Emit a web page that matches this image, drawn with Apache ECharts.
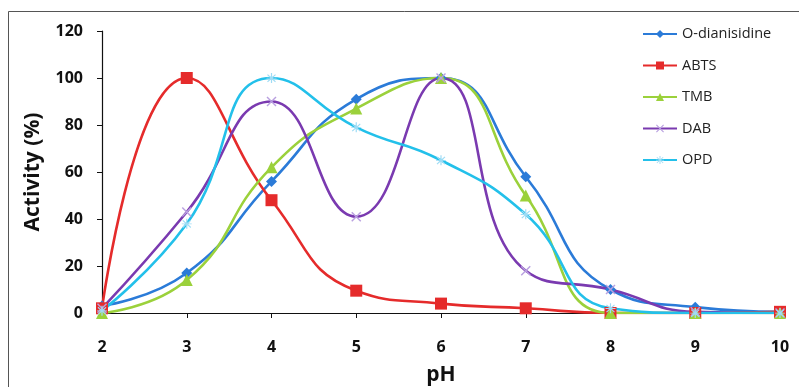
<!DOCTYPE html>
<html>
<head>
<meta charset="utf-8">
<script src="https://cdn.jsdelivr.net/npm/echarts@6/dist/echarts.min.js"></script>
<style>
  html, body { margin: 0; padding: 0; background: #fff; }
  #chart { width: 799px; height: 387px; }
</style>
</head>
<body>
<div id="chart"></div>
<script>
const ph = [2, 3, 4, 5, 6, 7, 8, 9, 10]
const oDianisidine = [3, 17, 56, 91, 100, 58, 10, 2.5, 0.5]
const abts = [2, 100, 48, 9.5, 4, 2, 0, 0, 0.5]
const tmb = [0, 14, 62, 87, 100, 50, 0, 0, 0]
const dab = [2, 43, 90, 41, 100, 18, 10, 0.5, 0]
const opd = [1, 38, 100, 79, 65, 42, 2, 0, 0]

const crossPath = 'path://M1,0L5,4L9,0L10,1L6,5L10,9L9,10L5,6L1,10L0,9L4,5L0,1Z'
const starPath = 'path://M4.4,0H5.6V4L8.6,1.2L9.4,2L6.4,4.8H10V5.6H6.4L9.4,8.4L8.6,9.2L5.6,6.4V10H4.4V6.4L1.4,9.2L0.6,8.4L3.6,5.6H0V4.8H3.6L0.6,2L1.4,1.2L4.4,4Z'

const chart = echarts.init(document.getElementById('chart'), null, { renderer: 'canvas' })

function mk(name, values, color, symbol, size, markColor) {
  return {
    name: name,
    type: 'line',
    data: ph.map((x, i) => [x, values[i]]),
    smooth: 0.5,
    symbol: symbol,
    symbolSize: size,
    showAllSymbol: true,
    lineStyle: { color: color, width: 2.6 },
    itemStyle: { color: markColor || color },
    emphasis: { disabled: true }
  }
}

const font = '"Open Sans", "Liberation Sans", sans-serif'

chart.setOption({
  animation: false,
  backgroundColor: '#fff',
  textStyle: { fontFamily: font },
  graphic: [
    {
      type: 'rect',
      shape: { x: 8.5, y: 11.5, width: 820, height: 400 },
      style: { fill: 'none', stroke: '#555', lineWidth: 1 },
      silent: true
    }
  ],
  legend: {
    orient: 'vertical',
    left: 637,
    top: 21,
    itemGap: 15.5,
    itemWidth: 34,
    itemHeight: 10,
    textStyle: { fontSize: 14.5, lineHeight: 16, color: '#222', fontFamily: font },
    data: ['O-dianisidine', 'ABTS', 'TMB', 'DAB', 'OPD']
  },
  grid: { left: 102, right: 19, top: 31, bottom: 74, outerBoundsMode: 'none', containLabel: false },
  xAxis: {
    type: 'value',
    min: 2,
    max: 10,
    interval: 1,
    name: 'pH',
    nameLocation: 'middle',
    nameGap: 52,
    nameTextStyle: { fontSize: 21, fontWeight: 'bold', color: '#111' },
    axisLine: { lineStyle: { color: '#111', width: 1.2 } },
    axisTick: { show: true, length: 5, lineStyle: { color: '#111' } },
    axisLabel: { fontSize: 16, fontWeight: 'bold', color: '#111', margin: 26 },
    splitLine: { show: false }
  },
  yAxis: {
    type: 'value',
    min: 0,
    max: 120,
    interval: 20,
    name: 'Activity (%)',
    nameLocation: 'middle',
    nameGap: 58,
    nameTextStyle: { fontSize: 21, fontWeight: 'bold', color: '#111' },
    axisLine: { show: true, lineStyle: { color: '#111', width: 1.2 } },
    axisTick: { show: true, length: 5, lineStyle: { color: '#111' } },
    axisLabel: { fontSize: 16, fontWeight: 'bold', color: '#111', margin: 19 },
    splitLine: { show: false }
  },
  series: [
    mk('O-dianisidine', oDianisidine, '#2b7bd8', 'diamond', 11),
    mk('ABTS', abts, '#e52b2b', 'rect', 12),
    mk('TMB', tmb, '#9bd13b', 'triangle', 12),
    mk('DAB', dab, '#7a3ab0', crossPath, 10, '#b9a0e0'),
    mk('OPD', opd, '#23c0ea', starPath, 10, '#9fdcf5')
  ]
})
</script>
</body>
</html>
